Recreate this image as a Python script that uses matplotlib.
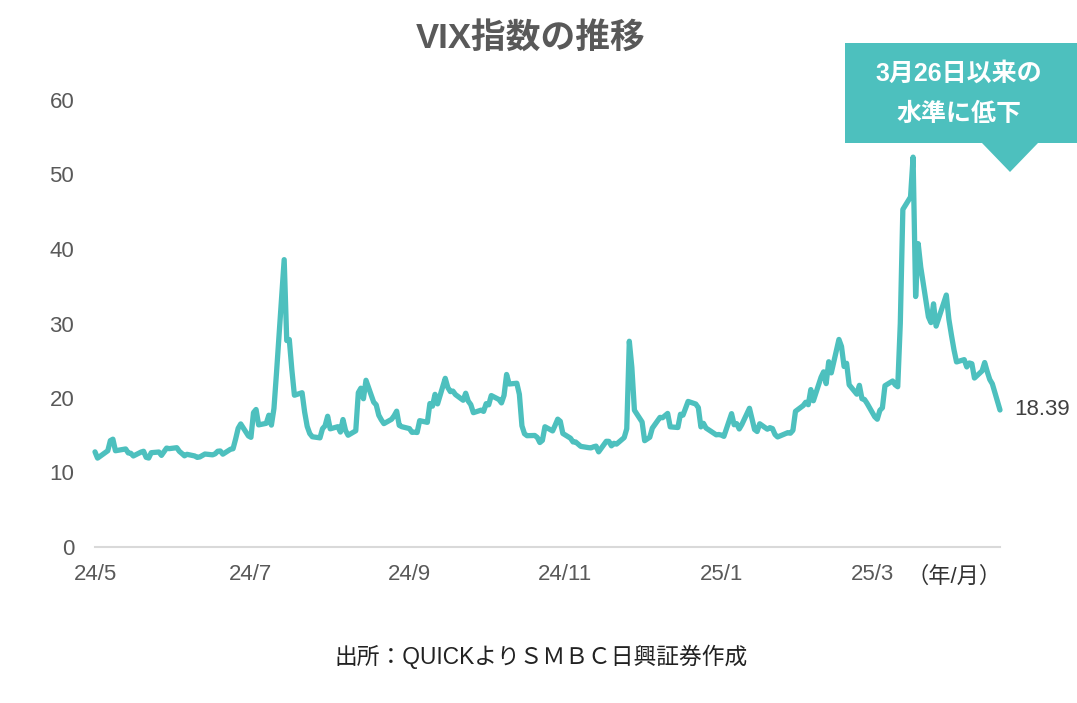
import matplotlib
matplotlib.use("Agg")
import matplotlib.pyplot as plt
from matplotlib.patches import Polygon
import pandas as pd

plt.rcParams['font.family'] = ['Liberation Sans', 'Noto Sans CJK JP', 'DejaVu Sans']

# VIX daily closes, grouped by month
vix_2024_05 = [12.77, 11.93, 12.92, 14.28, 14.47, 12.92]
vix_2024_06 = [13.11, 13.16, 12.63, 12.58, 12.22, 12.74, 12.85, 12.04, 11.94, 12.66,
               12.75, 12.30, 13.28, 13.20, 13.33, 12.84, 12.55, 12.24, 12.44]
vix_2024_07 = [12.22, 12.03, 12.09, 12.48, 12.37, 12.51, 12.85, 12.89, 12.46, 13.12,
               13.19, 14.48, 15.93, 16.52, 14.91, 14.72, 18.04, 18.46, 16.39, 16.60,
               17.69, 16.36]
vix_2024_08 = [18.59, 23.39, 38.57, 27.71, 27.85, 23.79, 20.37, 20.71, 18.12, 16.19,
               15.23, 14.80, 14.65, 15.88, 16.27, 17.55, 15.86, 16.15, 15.43, 17.11,
               15.65, 15.00]
vix_2024_09 = [15.60, 20.72, 21.32, 19.90, 22.38, 19.45, 19.08, 17.69, 17.07, 16.56,
               17.14, 17.61, 18.23, 16.33, 16.15, 15.89, 15.39, 15.41, 15.37, 16.96,
               16.73]
vix_2024_10 = [19.26, 18.90, 20.49, 19.21, 22.64, 21.42, 20.86, 20.93, 20.46, 19.70,
               20.64, 19.58, 19.11, 18.03, 18.37, 18.20, 19.24, 19.08, 20.33, 19.80,
               19.34, 20.35, 23.16]
vix_2024_11 = [21.88, 21.98, 20.49, 16.27, 15.20, 14.94, 14.97, 14.71, 14.02, 14.31,
               16.14, 15.58, 16.35, 17.16, 16.87, 15.24, 14.60, 14.10, 14.10, 13.51]
vix_2024_12 = [13.34, 13.30, 13.45, 13.54, 12.77, 14.19, 14.18, 13.58, 13.92, 13.81,
               14.69, 15.87, 27.62, 24.09, 18.36, 16.78, 14.27, 14.73, 15.95, 17.40,
               17.35]
vix_2025_01 = [17.93, 16.13, 16.04, 17.82, 17.70, 19.54, 19.19, 18.71, 16.12, 16.60,
               15.97, 15.06, 15.10, 15.02, 14.85, 17.90, 16.41, 16.56, 15.84, 16.43]
vix_2025_02 = [18.62, 17.21, 15.77, 15.50, 16.54, 15.81, 16.02, 15.89, 15.10, 14.77,
               15.35, 15.27, 15.66, 18.21, 18.98, 19.43, 19.10, 21.13, 19.63]
vix_2025_03 = [22.78, 23.51, 21.93, 24.87, 23.37, 27.86, 26.92, 24.23, 24.66, 21.77,
               20.51, 21.70, 19.90, 19.80, 19.28, 17.48, 17.15, 18.33, 18.69, 21.65,
               22.28]
vix_2025_04 = [21.77, 21.51, 30.02, 45.31, 46.98, 52.33, 33.62, 40.72, 37.56, 30.89,
               30.12, 32.64, 29.65, 33.82, 30.57, 28.45, 26.47, 24.84, 25.15, 24.17,
               24.70]
vix_2025_05 = [24.60, 22.68, 23.64, 24.76, 23.55, 22.48, 21.90, 18.39]

# days without a quote
closed_days = ["2024-05-27", "2024-06-19", "2024-07-04", "2024-11-28",
               "2024-12-25", "2025-01-01", "2025-01-09", "2025-01-20", "2025-02-17",
               "2025-04-18"]
first_day, last_day = "2024-05-23", "2025-05-12"

tick_dates = ["2024-05-23", "2024-07-23", "2024-09-23", "2024-11-23", "2025-01-23", "2025-03-23"]
tick_labels = ["24/5", "24/7", "24/9", "24/11", "25/1", "25/3"]
y_ticks = [0, 10, 20, 30, 40, 50, 60]

values = (vix_2024_05 + vix_2024_06 + vix_2024_07 + vix_2024_08 + vix_2024_09 +
          vix_2024_10 + vix_2024_11 + vix_2024_12 + vix_2025_01 + vix_2025_02 +
          vix_2025_03 + vix_2025_04 + vix_2025_05)
days = pd.bdate_range(first_day, last_day)
days = days[~days.isin(pd.to_datetime(closed_days))]
series = pd.Series(values, index=days)

TEAL = "#4DC0BE"
W, H = 1077, 703
fig = plt.figure(figsize=(W / 100, H / 100), dpi=100)
ax = fig.add_axes([95 / W, (H - 547) / H, 905 / W, 447 / H])

ax.plot(series.index, series.values, color=TEAL, lw=3.8,
        solid_joinstyle="round", solid_capstyle="round", zorder=3, clip_on=False)

ax.set_xlim(pd.Timestamp(first_day), pd.Timestamp(last_day))
ax.set_ylim(0, 60)
ax.set_yticks(y_ticks)
ax.set_xticks(pd.to_datetime(tick_dates))
ax.set_xticklabels(tick_labels)
for s in ["top", "right", "left"]:
    ax.spines[s].set_visible(False)
ax.spines["bottom"].set_color("#D9D9D9")
ax.spines["bottom"].set_linewidth(1.5)
ax.tick_params(axis="both", length=0, labelsize=16, labelcolor="#595959")
ax.tick_params(axis="y", pad=15)
ax.tick_params(axis="x", pad=12)

# last value label
ax.annotate(f"{series.iloc[-1]:.2f}", xy=(series.index[-1], series.iloc[-1]),
            xytext=(14, 0), textcoords="offset pixels", ha="left", va="center",
            fontsize=16, color="#404040", annotation_clip=False)

def fy(py):
    return 1 - py / H

def fx(px):
    return px / W

# callout box with downward pointer
callout = Polygon([(fx(845), fy(43)), (fx(1077), fy(43)), (fx(1077), fy(143)),
                   (fx(1038), fy(143)), (fx(1010), fy(172)), (fx(982), fy(143)),
                   (fx(845), fy(143))], closed=True, transform=fig.transFigure,
                  facecolor=TEAL, edgecolor="none", zorder=5)
fig.patches.append(callout)
fig.text(fx(959), fy(74), "3月26日以来の", ha="center", va="center", fontsize=18,
         fontweight="bold", color="white", zorder=6)
fig.text(fx(959), fy(114), "水準に低下", ha="center", va="center", fontsize=18,
         fontweight="bold", color="white", zorder=6)

fig.text(fx(531), fy(38), "VIX指数の推移", ha="center", va="center", fontsize=25,
         fontweight="bold", color="#595959")
fig.text(fx(954), fy(577), "（年/月）", ha="center", va="center", fontsize=16,
         color="#333333")
fig.text(fx(541), fy(657), "出所：QUICKよりＳＭＢＣ日興証券作成", ha="center", va="center",
         fontsize=16.4, color="#222222")

fig.savefig("out.png", dpi=100, facecolor="white")
